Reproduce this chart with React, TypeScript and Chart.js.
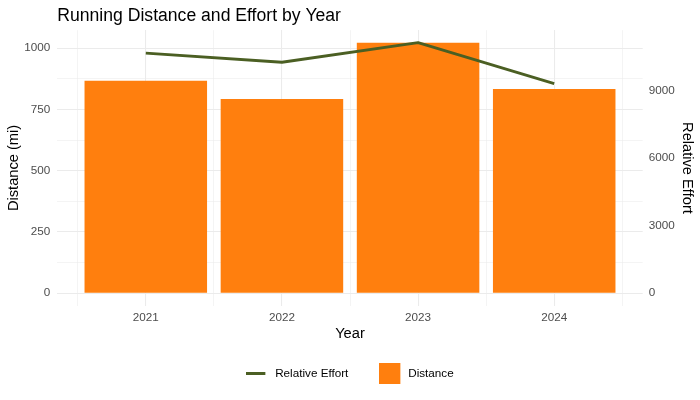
import React, { useEffect, useRef } from 'react';
import { Chart, registerables } from 'chart.js';

Chart.register(...registerables);

// data
const years = ['2021', '2022', '2023', '2024'];
const distance = [867, 793, 1023, 834];
const effort = [10650, 10250, 11120, 9300];
const distanceTicks = [0, 250, 500, 750, 1000];
const effortTicks = [0, 3000, 6000, 9000];

const FONT = '"Liberation Sans", Arial, Helvetica, sans-serif';
const ORANGE = '#FF7F0E';
const GREEN = '#4B5F23';
const GRID = '#EBEBEB';
const TICK = '#4D4D4D';

// secondary axis is the primary one scaled by max(effort) / max(distance)
const maxDist = Math.max(...distance);
const ratio = Math.max(...effort) / maxDist;
const yMin = -0.05 * maxDist;
const yMax = 1.05 * maxDist;
const xMin = -0.65;
const xMax = years.length - 1 + 0.65;

// minor gridlines sit halfway between the majors
const yGridValues = [
  ...distanceTicks,
  ...distanceTicks.slice(1).map((v, i) => (v + distanceTicks[i]) / 2),
];
const xMinorValues = [...years.map((_, i) => i - 0.5), years.length - 0.5];

const makeIcon = (draw: (ctx: CanvasRenderingContext2D) => void) => {
  const c = document.createElement('canvas');
  c.width = 23;
  c.height = 23;
  const ctx = c.getContext('2d');
  if (ctx) draw(ctx);
  return c;
};

const titlePlugin = {
  id: 'panelTitle',
  afterDraw(chart: Chart) {
    const { ctx, chartArea } = chart;
    ctx.save();
    ctx.font = `17.6px ${FONT}`;
    ctx.fillStyle = '#000';
    ctx.textBaseline = 'alphabetic';
    ctx.textAlign = 'left';
    ctx.fillText('Running Distance and Effort by Year', chartArea.left, 21);
    ctx.restore();
  },
};

const App: React.FC = () => {
  const canvasRef = useRef<HTMLCanvasElement | null>(null);

  useEffect(() => {
    const canvas = canvasRef.current;
    if (!canvas) return;

    const lineIcon = makeIcon(ctx => {
      ctx.strokeStyle = GREEN;
      ctx.lineWidth = 3;
      ctx.beginPath();
      ctx.moveTo(0, 11.5);
      ctx.lineTo(19, 11.5);
      ctx.stroke();
    });
    const barIcon = makeIcon(ctx => {
      ctx.fillStyle = ORANGE;
      ctx.fillRect(0, 1, 21, 21);
    });
    const icons = [lineIcon, barIcon];

    const chart = new Chart(canvas, {
      type: 'bar',
      data: {
        datasets: [
          {
            type: 'line',
            label: 'Relative Effort',
            data: years.map((_, i) => ({ x: i, y: effort[i] })),
            xAxisID: 'x',
            yAxisID: 'y2',
            borderColor: GREEN,
            borderWidth: 2.8,
            borderJoinStyle: 'round',
            borderCapStyle: 'butt',
            pointRadius: 0,
            tension: 0,
            fill: false,
          },
          {
            type: 'bar',
            label: 'Distance',
            data: years.map((_, i) => ({ x: i, y: distance[i] })),
            xAxisID: 'x',
            yAxisID: 'y',
            backgroundColor: ORANGE,
            borderWidth: 0,
            barPercentage: 0.9,
            categoryPercentage: 1,
          },
        ],
      } as any,
      options: {
        animation: false,
        responsive: false,
        events: [],
        layout: { padding: { top: 30.1, bottom: 10.65, left: 0, right: 0 } },
        font: { family: FONT },
        scales: {
          x: {
            type: 'linear',
            position: 'bottom',
            offset: false,
            min: xMin,
            max: xMax,
            afterBuildTicks: (s: any) => {
              s.ticks = years.map((_, i) => ({ value: i }));
            },
            afterFit: (s: any) => {
              s.height = 30.85;
            },
            ticks: {
              callback: (v: any) => years[v] ?? '',
              color: TICK,
              font: { family: FONT, size: 11.7 },
              padding: 5,
              maxRotation: 0,
              autoSkip: false,
            },
            grid: { color: GRID, lineWidth: 1.07, drawTicks: false, offset: false },
            border: { display: false },
            title: {
              display: true,
              text: 'Year',
              color: '#000',
              font: { family: FONT, size: 14.67 },
              padding: { top: 0, bottom: -6 },
            },
          },
          xMinor: {
            type: 'linear',
            position: 'bottom',
            offset: false,
            min: xMin,
            max: xMax,
            afterBuildTicks: (s: any) => {
              s.ticks = xMinorValues.map(v => ({ value: v }));
            },
            afterFit: (s: any) => {
              s.height = 0;
            },
            ticks: { display: false },
            grid: { color: GRID, lineWidth: 0.55, drawTicks: false, offset: false },
            border: { display: false },
          },
          y: {
            type: 'linear',
            position: 'left',
            min: yMin,
            max: yMax,
            afterBuildTicks: (s: any) => {
              s.ticks = yGridValues.map(v => ({ value: v }));
            },
            afterFit: (s: any) => {
              s.width = 57.3;
            },
            ticks: {
              callback: (v: any) => (distanceTicks.includes(v) ? String(v) : ''),
              color: TICK,
              font: { family: FONT, size: 11.7 },
              padding: 7,
            },
            grid: {
              color: GRID,
              lineWidth: (ctx: any) => (distanceTicks.includes(ctx.tick?.value) ? 1.07 : 0.55),
              drawTicks: false,
            },
            border: { display: false },
            title: {
              display: true,
              text: 'Distance (mi)',
              color: '#000',
              font: { family: FONT, size: 14.67 },
              padding: { top: 4.7, bottom: 0 },
            },
          },
          y2: {
            type: 'linear',
            position: 'right',
            min: yMin * ratio,
            max: yMax * ratio,
            afterBuildTicks: (s: any) => {
              s.ticks = effortTicks.map(v => ({ value: v }));
            },
            afterFit: (s: any) => {
              s.width = 57.3;
            },
            ticks: {
              callback: (v: any) => String(v),
              color: TICK,
              font: { family: FONT, size: 11.7 },
              padding: 6,
            },
            grid: { drawOnChartArea: false, drawTicks: false },
            border: { display: false },
            title: {
              display: true,
              text: 'Relative Effort',
              color: '#000',
              font: { family: FONT, size: 14.67 },
              padding: { top: 4.2, bottom: 0 },
            },
          },
        },
        plugins: {
          title: { display: false },
          tooltip: { enabled: false },
          legend: {
            display: true,
            position: 'bottom',
            labels: {
              usePointStyle: true,
              pointStyleWidth: 23,
              padding: 31,
              color: '#000',
              font: { family: FONT, size: 11.7 },
              generateLabels: (c: any) =>
                c.data.datasets.map((ds: any, i: number) => ({
                  text: ds.label,
                  pointStyle: icons[i],
                  datasetIndex: i,
                  hidden: false,
                  lineWidth: 0,
                  fontColor: '#000',
                })),
            },
          },
        },
      } as any,
      plugins: [titlePlugin],
    });

    return () => {
      chart.destroy();
    };
  }, []);

  return (
    <div style={{ position: 'fixed', left: 0, top: 0, width: 700, height: 400, background: '#fff' }}>
      <canvas ref={canvasRef} width={700} height={400} style={{ display: 'block', width: 700, height: 400 }} />
    </div>
  );
};

export default App;
